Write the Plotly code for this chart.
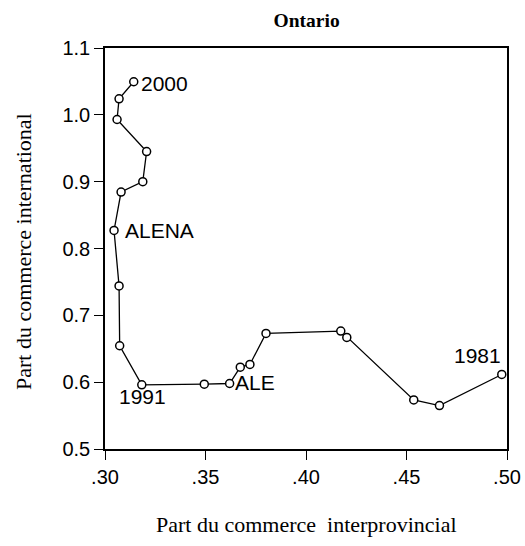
import plotly.graph_objects as go

years = list(range(1981, 2001))
interprov = [0.4974, 0.4664, 0.4536, 0.4203, 0.4173, 0.3801, 0.3721, 0.3673, 0.3620, 0.3494,
             0.3183, 0.3073, 0.3070, 0.3045, 0.3080, 0.3188, 0.3207, 0.3060, 0.3070, 0.3143]
intl = [0.6115, 0.5650, 0.5735, 0.6670, 0.6765, 0.6730, 0.6265, 0.6225, 0.5980, 0.5970,
        0.5960, 0.6545, 0.7440, 0.8270, 0.8845, 0.9000, 0.9450, 0.9930, 1.0240, 1.0495]

x_tickvals = [0.30, 0.35, 0.40, 0.45, 0.50]
x_ticktext = [".30", ".35", ".40", ".45", ".50"]
y_tickvals = [0.5, 0.6, 0.7, 0.8, 0.9, 1.0, 1.1]
y_ticktext = ["0.5", "0.6", "0.7", "0.8", "0.9", "1.0", "1.1"]

labels = {1981: "1981", 1989: "ALE", 1991: "1991", 1994: "ALENA", 2000: "2000"}

x_title = "Part du commerce  interprovincial"
y_title = "Part du commerce international"
chart_title = "Ontario"

fig = go.Figure()
fig.add_trace(go.Scatter(
    x=interprov, y=intl, mode="lines+markers",
    line=dict(color="black", width=1.3),
    marker=dict(symbol="circle", size=8, color="white",
                line=dict(color="black", width=1.5)),
    showlegend=False, cliponaxis=False, hoverinfo="skip",
))

label_style = {
    "1981": dict(xanchor="right", yanchor="middle", xshift=1, yshift=19),
    "ALE": dict(xanchor="left", yanchor="middle", xshift=3, yshift=1),
    "1991": dict(xanchor="center", yanchor="middle", xshift=1, yshift=-12),
    "ALENA": dict(xanchor="left", yanchor="middle", xshift=9, yshift=0),
    "2000": dict(xanchor="left", yanchor="middle", xshift=5, yshift=-2),
}
for yr, txt in labels.items():
    i = years.index(yr)
    fig.add_annotation(x=interprov[i], y=intl[i], text=txt, showarrow=False,
                       font=dict(family="Liberation Sans, Arial", size=21, color="black"),
                       **label_style[txt])

serif = "Liberation Serif, Times New Roman"
fig.add_annotation(xref="paper", yref="paper", x=0.5, y=0, xanchor="center", yanchor="middle",
                   yshift=-75.5, text=x_title, showarrow=False,
                   font=dict(family=serif, size=22, color="black"))
fig.add_annotation(xref="paper", yref="paper", x=0, y=0.5, xanchor="center", yanchor="middle",
                   xshift=-81.5, yshift=-3, textangle=-90, text=y_title, showarrow=False,
                   font=dict(family=serif, size=22, color="black"))

axis_common = dict(showline=True, linecolor="black", linewidth=1.5, mirror=True,
                   ticks="outside", ticklen=9, tickwidth=1.2, tickcolor="black",
                   showgrid=False, zeroline=False, automargin=False,
                   tickfont=dict(family="Liberation Sans, Arial", size=20, color="black"))

fig.update_xaxes(range=[0.30, 0.50], tickvals=x_tickvals, ticktext=x_ticktext, **axis_common)
fig.update_yaxes(range=[0.5, 1.1], tickvals=y_tickvals, ticktext=y_ticktext, **axis_common)

fig.update_layout(
    width=525, height=546,
    margin=dict(l=104.5, r=17.5, t=47.5, b=96.5, autoexpand=False),
    paper_bgcolor="white", plot_bgcolor="white",
    title=dict(text="<b>" + chart_title + "</b>", x=0.584, xanchor="center", y=0.963, yanchor="middle",
               font=dict(family=serif, size=19.5, color="black")),
)

fig.write_html("out.html", config={"displayModeBar": False},
               post_script="document.body.style.margin='0';")
